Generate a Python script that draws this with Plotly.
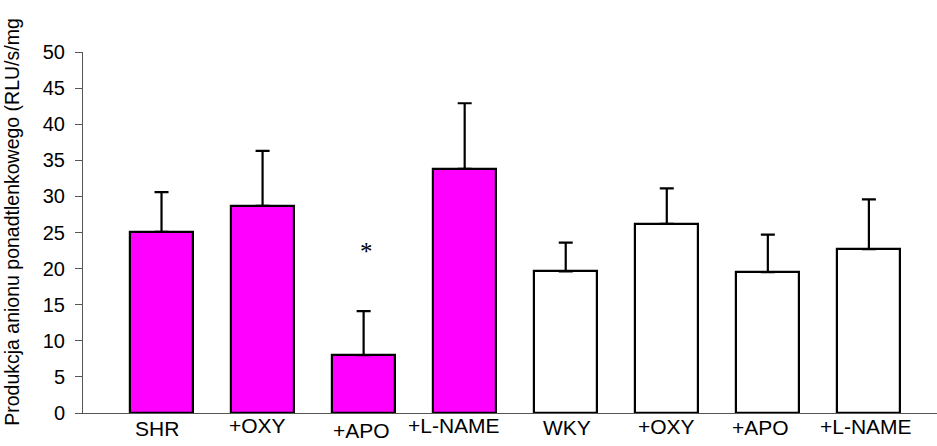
import plotly.graph_objects as go

# Superoxide anion production per group (mean and upper error)
categories = ["SHR", "+OXY", "+APO", "+L-NAME", "WKY", "+OXY", "+APO", "+L-NAME"]
means = [25.1, 28.7, 8.0, 33.8, 19.6, 26.2, 19.5, 22.7]
errors = [5.5, 7.6, 6.1, 9.1, 4.0, 4.9, 5.2, 6.9]
strain = ["SHR", "SHR", "SHR", "SHR", "WKY", "WKY", "WKY", "WKY"]
significant = [False, False, True, False, False, False, False, False]
y_ticks = [0, 5, 10, 15, 20, 25, 30, 35, 40, 45, 50]
y_title = "Produkcja anionu ponadtlenkowego (RLU/s/mg"

fill_for = {"SHR": "#FF00FF", "WKY": "#FFFFFF"}
# small pixel nudges for the category captions (x, y)
label_nudge = [(-5, -1), (-5, 2), (-2, -3), (-11, 2), (1, 0), (0, 1), (-7, 0), (-3, 1)]

xs = list(range(len(categories)))

fig = go.Figure()
for group in ["SHR", "WKY"]:
    idx = [i for i, s in enumerate(strain) if s == group]
    fig.add_trace(go.Bar(
        x=[xs[i] for i in idx],
        y=[means[i] for i in idx],
        width=0.623,
        marker=dict(color=fill_for[group], line=dict(color="black", width=2.2)),
        error_y=dict(type="data", symmetric=False,
                     array=[errors[i] for i in idx],
                     arrayminus=[0] * len(idx),
                     color="black", thickness=2.2, width=7),
        showlegend=False,
    ))

# category captions under the axis
for i, name in enumerate(categories):
    dx, dy = label_nudge[i]
    fig.add_annotation(x=xs[i], y=0, xref="x", yref="y", text=name,
                       showarrow=False, yanchor="middle", xanchor="center",
                       xshift=dx, yshift=-14 + dy,
                       font=dict(family="Liberation Sans, Arial", size=21, color="black"))

# significance markers
for i, sig in enumerate(significant):
    if sig:
        fig.add_annotation(x=xs[i], y=means[i] + errors[i], xref="x", yref="y",
                           text="*", showarrow=False, yanchor="bottom",
                           xshift=3, yshift=44,
                           font=dict(family="Liberation Serif, Times New Roman", size=25,
                                     color="black"))

# rotated y-axis title
fig.add_annotation(x=-0.083, y=0.53, xref="paper", yref="paper", text=y_title,
                   textangle=-90, showarrow=False, xanchor="center", yanchor="middle",
                   font=dict(family="Liberation Sans, Arial", size=19.5, color="black"))

fig.update_layout(
    width=937, height=446,
    margin=dict(l=83, r=0, t=52, b=33),
    paper_bgcolor="white", plot_bgcolor="white",
    bargap=0,
    xaxis=dict(range=[-0.777, 7.674], showgrid=False, zeroline=False,
               showline=True, linecolor="#555", linewidth=1,
               showticklabels=False, ticks=""),
    yaxis=dict(range=[0, 50], tickvals=y_ticks, showgrid=False, zeroline=False,
               showline=True, linecolor="#555", linewidth=1,
               ticks="outside", ticklen=7, tickcolor="#555",
               ticklabelstandoff=6,
               tickfont=dict(family="Liberation Sans, Arial", size=20, color="black")),
)

fig.write_html("out.html")
